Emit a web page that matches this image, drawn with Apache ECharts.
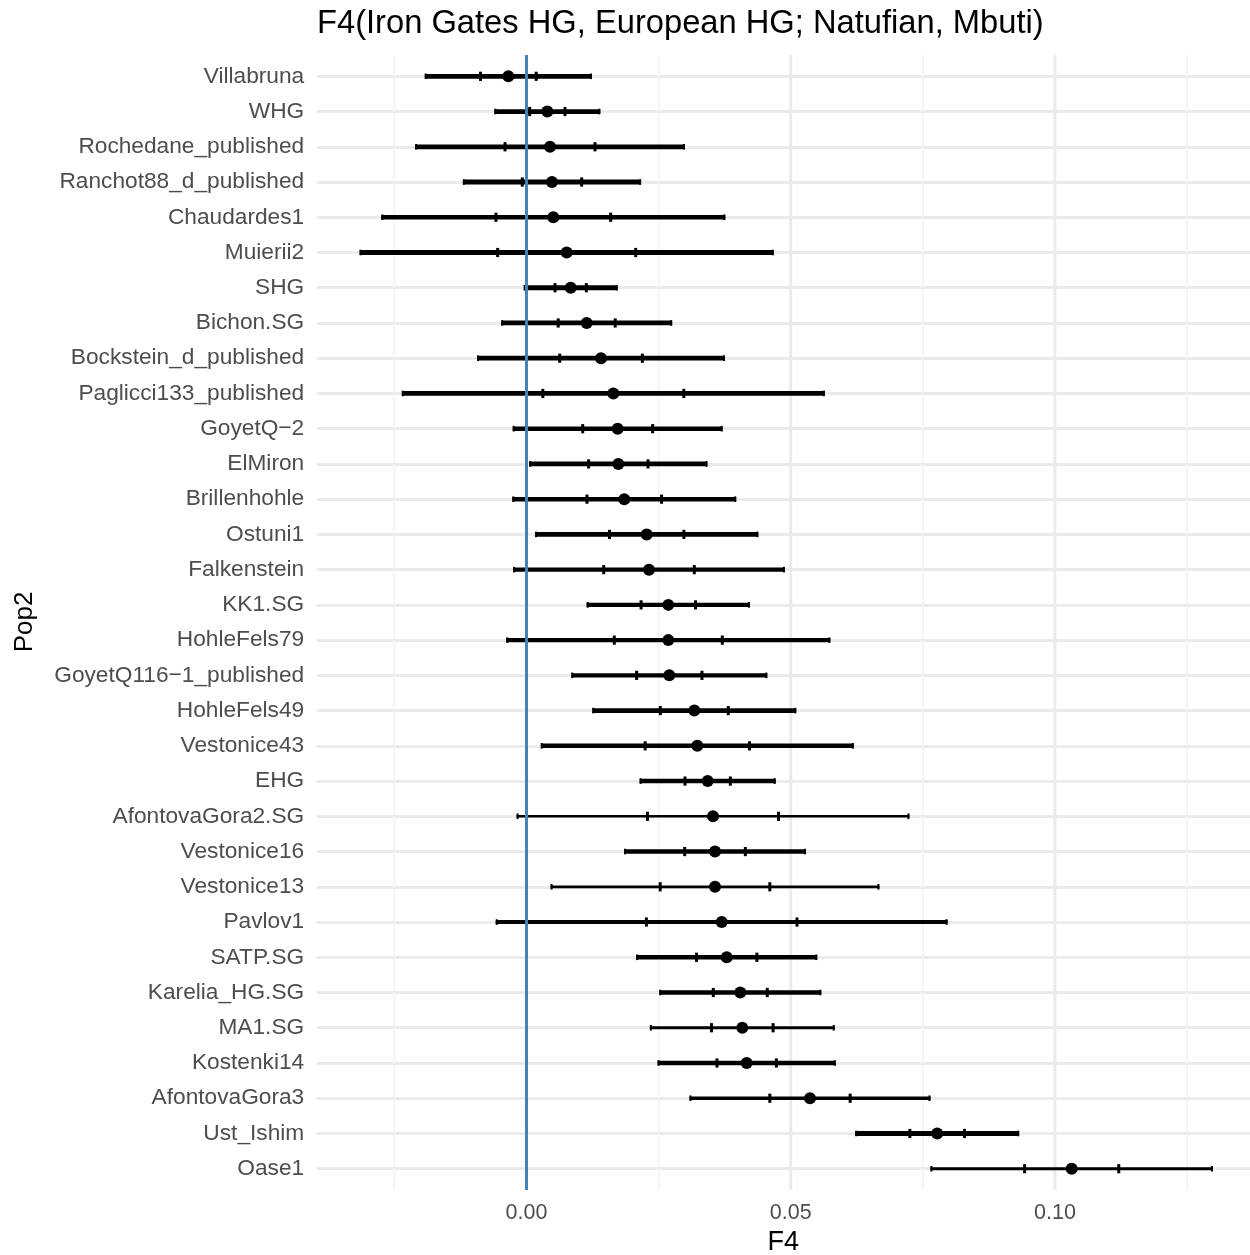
<!DOCTYPE html>
<html><head><meta charset="utf-8">
<script src="https://cdn.jsdelivr.net/npm/echarts@6/dist/echarts.min.js"></script>
<style>html,body{margin:0;padding:0;background:#fff}#c{width:1250px;height:1255px}</style>
</head><body><div id="c"></div>
<script>
const categories = ["Villabruna","WHG","Rochedane_published","Ranchot88_d_published","Chaudardes1","Muierii2","SHG","Bichon.SG","Bockstein_d_published","Paglicci133_published","GoyetQ\u22122","ElMiron","Brillenhohle","Ostuni1","Falkenstein","KK1.SG","HohleFels79","GoyetQ116\u22121_published","HohleFels49","Vestonice43","EHG","AfontovaGora2.SG","Vestonice16","Vestonice13","Pavlov1","SATP.SG","Karelia_HG.SG","MA1.SG","Kostenki14","AfontovaGora3","Ust_Ishim","Oase1"];
const estimates = [-0.00344,0.00394,0.00445,0.00482,0.00507,0.00760,0.00836,0.01139,0.01410,0.01643,0.01725,0.01737,0.01850,0.02274,0.02318,0.02683,0.02683,0.02702,0.03175,0.03232,0.03428,0.03529,0.03567,0.03567,0.03693,0.03788,0.04045,0.04083,0.04166,0.05364,0.07771,0.10316];
const stdErrors = [0.00527,0.00334,0.00851,0.00562,0.01085,0.01306,0.00296,0.00539,0.00782,0.01334,0.00662,0.00562,0.00706,0.00704,0.00857,0.00515,0.01022,0.00618,0.00643,0.00987,0.00429,0.01239,0.00574,0.01037,0.01425,0.00571,0.00511,0.00583,0.00562,0.00760,0.00517,0.00891];
const lineWeights = [4,4,4,4,3.7,4,4,4,4,4,3.8,4,3.7,3.8,3.7,3.7,3.7,3.7,3.8,3.7,3.7,2,3.8,2.3,3.3,3.6,3.7,2.3,3.6,3,4.3,2.4];
const xMajorTicks = [0, 0.05, 0.10];
const xMinorTicks = [-0.025, 0.025, 0.075, 0.125];
const referenceValue = [0];
const X_MIN = -0.0397, X_MAX = 0.1369;

const chart = echarts.init(document.getElementById('c'), null, {renderer:'canvas'});
const FONT = "'Liberation Sans', Arial, sans-serif";

function vlineRender(width, color) {
  return function(params, api) {
    const cs = params.coordSys;
    const x = api.coord([api.value(0), 0])[0];
    return {type:'line', shape:{x1:x, y1:cs.y, x2:x, y2:cs.y+cs.height},
      style:{stroke:color, lineWidth:width}};
  };
}

const option = {
  animation:false,
  backgroundColor:'#fff',
  title:{text:'F4(Iron Gates HG, European HG; Natufian, Mbuti)', left:317, top:7, padding:0,
    textStyle:{fontFamily:FONT, fontSize:32.7, fontWeight:'normal', color:'#000'}},
  graphic:[{type:'text', x:25, y:622, rotation:Math.PI/2,
    style:{text:'Pop2', fontFamily:FONT, fontSize:26, fill:'#000', align:'center', verticalAlign:'middle'}}],
  grid:[
    {left:316.7, right:0, top:55, bottom:65, outerBoundsMode:'none'},
    {left:316.7, right:0, top:76.3, bottom:86.3, outerBoundsMode:'none'}
  ],
  xAxis:[
    {gridIndex:0, type:'value', min:X_MIN, max:X_MAX,
      axisLine:{show:false}, axisTick:{show:false}, splitLine:{show:false},
      axisLabel:{customValues:xMajorTicks, formatter:v=>v.toFixed(2), fontFamily:FONT, fontSize:21.5, color:'#4d4d4d', margin:12.5},
      name:'F4', nameLocation:'middle', nameGap:38.5,
      nameTextStyle:{fontFamily:FONT, fontSize:27, lineHeight:27, color:'#000', verticalAlign:'top'}},
    {gridIndex:1, type:'value', min:X_MIN, max:X_MAX, show:false}
  ],
  yAxis:[
    {gridIndex:0, type:'value', min:0, max:1, show:false},
    {gridIndex:1, type:'category', data:categories, inverse:true, boundaryGap:false,
      axisLine:{show:false}, axisTick:{show:false},
      axisLabel:{fontFamily:FONT, fontSize:22.7, color:'#4d4d4d', margin:12.5, interval:0, padding:[2,0,0,0]},
      splitLine:{show:true, interval:0, lineStyle:{color:'#ebebeb', width:3}}}
  ],
  series:[
    {type:'custom', xAxisIndex:0, yAxisIndex:0, z:1, silent:true,
      data:xMinorTicks.map(v=>[v]), encode:{x:0}, renderItem:vlineRender(1.5,'#f2f2f2')},
    {type:'custom', xAxisIndex:0, yAxisIndex:0, z:1, silent:true,
      data:xMajorTicks.map(v=>[v]), encode:{x:0}, renderItem:vlineRender(3,'#ebebeb')},
    {type:'custom', xAxisIndex:1, yAxisIndex:1, z:3, silent:true,
      data:categories.map((c,i)=>[estimates[i], i, stdErrors[i], lineWeights[i]]),
      encode:{x:0, y:1},
      renderItem:function(params, api){
        const est = api.value(0), idx = api.value(1), se = api.value(2), w = api.value(3) * 1.2;
        const px = v => api.coord([v, idx])[0];
        const y = api.coord([est, idx])[1];
        const xl = px(est-3*se), xr = px(est+3*se), x1 = px(est-se), x2 = px(est+se), xp = px(est);
        const blk = '#000';
        return {type:'group', children:[
          {type:'line', shape:{x1:xl, y1:y, x2:xr, y2:y}, style:{stroke:blk, lineWidth:w}},
          {type:'line', shape:{x1:xl+1, y1:y-2.8, x2:xl+1, y2:y+2.8}, style:{stroke:blk, lineWidth:2}},
          {type:'line', shape:{x1:xr-1, y1:y-2.8, x2:xr-1, y2:y+2.8}, style:{stroke:blk, lineWidth:2}},
          {type:'line', shape:{x1:x1, y1:y-4.6, x2:x1, y2:y+4.6}, style:{stroke:blk, lineWidth:3}},
          {type:'line', shape:{x1:x2, y1:y-4.6, x2:x2, y2:y+4.6}, style:{stroke:blk, lineWidth:3}},
          {type:'circle', shape:{cx:xp, cy:y, r:6}, style:{fill:blk}}
        ]};
      }},
    {type:'custom', xAxisIndex:0, yAxisIndex:0, z:5, silent:true,
      data:referenceValue.map(v=>[v]), encode:{x:0}, renderItem:vlineRender(3,'#4682b4')}
  ]
};
chart.setOption(option);
</script></body></html>
